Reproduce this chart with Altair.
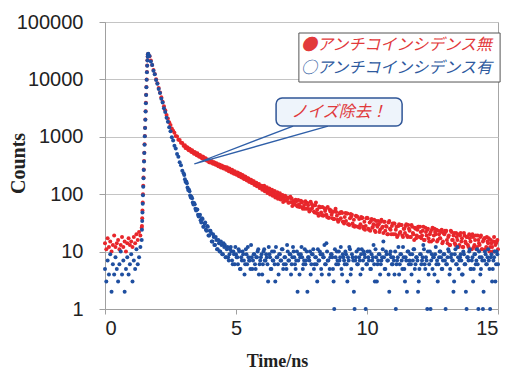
import altair as alt
import pandas as pd

RED = "#e8262b"
BLUE = "#1f4fa0"

SERIES = ["アンチコインシデンス無", "アンチコインシデンス有"]
LEGEND_TEXT = ["●アンチコインシデンス無", "○アンチコインシデンス有"]
CALLOUT = "ノイズ除去！"
X_TICKS = [0, 5, 10, 15]
Y_TICKS = [1, 10, 100, 1000, 10000, 100000]

# time grid (ns)
pre_t = [round(i * 0.05, 2) for i in range(29)]            # 0.00 .. 1.40
rise_t = [round(1.41 + i * 0.01, 2) for i in range(24)]    # 1.41 .. 1.64
decay_t = [round(1.65 + i * 0.05, 2) for i in range(268)]  # 1.65 .. 15.00
mid_t = [round(3.025 + i * 0.05, 3) for i in range(240)]   # 3.025 .. 14.975

# --- red: without anti-coincidence ---
red_pre = [14, 11, 17, 12, 15, 10, 13, 19, 12, 14, 16, 11, 13, 18, 12, 15, 10, 14, 17, 13,
           15, 12, 18, 14, 20, 16, 22, 19, 26]
red_rise = [28, 38, 52, 72, 100, 140, 195, 270, 380, 530, 740, 1030, 1440, 2000, 2800, 3900,
            5400, 7400, 10000, 13500, 17500, 21500, 25000, 27500]
red_decay = (
    [27800, 25200, 21300, 17900, 14600, 12400, 10100, 8600, 7100, 5900, 4900, 4100, 3400, 2900, 2400, 2080, 1790, 1600, 1390, 1270]
    + [1180, 1030, 1010, 890, 880, 790, 780, 700, 710, 640, 650, 585, 600, 545, 555, 505, 520, 475, 490, 450]
    + [460, 425, 445, 405, 420, 385, 400, 365, 378, 350, 362, 333, 345, 318, 330, 300, 315, 290, 300, 280]
    + [295, 262, 280, 248, 266, 235, 252, 222, 240, 210, 228, 198, 215, 186, 203, 176, 190, 165, 178, 156]
    + [168, 146, 158, 137, 147, 128, 140, 120, 131, 112, 123, 105, 115, 99, 109, 94, 103, 88, 96, 83]
    + [96, 81, 86, 73, 90, 77, 81, 71, 87, 73, 62, 76, 66, 75, 61, 67, 61, 72, 56, 65]
    + [75, 56, 64, 50, 74, 57, 63, 48, 72, 54, 42, 59, 48, 60, 43, 51, 44, 60, 39, 50]
    + [44, 49, 37, 56, 42, 33, 46, 38, 47, 33, 40, 34, 46, 30, 38, 41, 31, 36, 28, 41]
    + [27, 37, 30, 38, 27, 33, 28, 39, 25, 32, 34, 26, 30, 23, 34, 27, 30, 24, 36, 27]
    + [33, 23, 27, 20, 34, 24, 28, 20, 31, 24, 18, 28, 21, 29, 19, 25, 21, 30, 18, 25]
    + [18, 29, 21, 16, 25, 19, 27, 18, 22, 19, 27, 16, 22, 24, 17, 20, 15, 26, 19, 22]
    + [24, 16, 20, 17, 24, 15, 20, 22, 16, 18, 13, 23, 16, 19, 14, 21, 16, 12, 19, 15]
    + [12, 21, 15, 18, 13, 20, 15, 11, 18, 13, 19, 12, 16, 13, 19, 11, 16, 17, 12, 15]
    + [17, 12, 14, 10, 18, 13, 15, 11]
)
red_mid = (
    [700, 640, 655, 600, 620, 565, 585, 530, 545, 500, 515, 465, 480, 440, 452, 410, 425, 388, 398, 362]
    + [355, 375, 340, 356, 325, 340, 308, 326, 292, 310, 280, 294, 266, 282, 252, 266, 240, 254, 228, 240]
    + [218, 236, 206, 222, 196, 208, 184, 198, 174, 188, 164, 178, 156, 168, 146, 158, 139, 150, 131, 141]
    + [124, 140, 118, 132, 112, 126, 106, 120, 100, 114, 96, 108, 91, 104, 87, 97, 82, 94, 79, 88]
    + [72, 90, 84, 70, 67, 80, 63, 79, 60, 77, 74, 59, 56, 71, 70, 55, 52, 68, 64, 50]
    + [64, 47, 46, 61, 59, 43, 42, 57, 55, 40, 39, 54, 52, 38, 37, 51, 49, 36, 35, 48]
    + [49, 33, 31, 47, 46, 30, 29, 45, 44, 28, 27, 42, 41, 27, 26, 40, 39, 25, 24, 38]
    + [38, 24, 23, 37, 27, 36, 22, 29, 34, 22, 33, 26, 21, 33, 28, 20, 32, 25, 20, 31]
    + [31, 20, 27, 19, 30, 22, 29, 18, 25, 28, 19, 29, 23, 18, 27, 20, 26, 17, 24, 27]
    + [27, 17, 23, 16, 26, 19, 25, 15, 22, 24, 16, 25, 20, 15, 23, 17, 22, 14, 21, 23]
    + [23, 14, 19, 13, 22, 16, 21, 13, 18, 20, 13, 21, 17, 12, 19, 14, 18, 12, 17, 19]
    + [20, 12, 16, 11, 19, 14, 18, 11, 15, 17, 11, 18, 14, 10, 16, 12, 15, 10, 14, 16]
)

# --- blue: with anti-coincidence ---
blue_pre = [5, 3, 7, 4, 9, 2, 6, 4, 8, 5, 3, 6, 10, 4, 7, 2, 5, 8, 4, 6,
            9, 3, 7, 5, 11, 6, 8, 12, 16]
blue_rise = [24, 34, 48, 68, 96, 135, 190, 265, 370, 520, 730, 1020, 1420, 1980, 2750, 3850,
             5350, 7300, 9900, 13300, 17300, 21300, 24800, 27300]
blue_decay = (
    [28000, 25500, 20500, 17800, 14200, 12300, 9800, 8400, 6800, 5800, 4600, 3950, 3150, 2700, 2150, 1830, 1470, 1250, 980, 860]
    + [700, 625, 500, 450, 360, 318, 255, 232, 182, 166, 131, 121, 95, 90, 72, 70, 56, 54, 44, 42]
    + [35, 38, 27, 31, 24, 28, 19, 23, 21, 15, 18, 13, 16, 11, 14, 10, 13, 9, 12, 8]
    + [11, 8, 9, 12, 7, 10, 6, 9, 8, 11, 5, 8, 10, 7, 6, 9, 12, 7, 5, 8]
    + [7, 9, 5, 8, 11, 6, 8, 4, 10, 7, 9, 6, 12, 8, 5, 7, 10, 3, 8, 6]
    + [9, 7, 11, 5, 8, 6, 13, 7, 9, 4, 8, 10, 6, 7, 2, 9, 8, 12, 5, 7]
    + [6, 10, 8, 7, 4, 9, 11, 6, 8, 3, 7, 10, 5, 9, 8, 6, 14, 7, 4, 8]
    + [9, 5, 1, 8, 10, 6, 7, 12, 4, 8, 6, 9, 3, 7, 11, 5, 8, 2, 7, 10]
    + [6, 8, 4, 11, 7, 9, 1, 6, 8, 10, 5, 7, 13, 3, 8, 6, 9, 4, 7, 11]
    + [8, 5, 9, 7, 2, 10, 6, 8, 4, 1, 7, 12, 6, 9, 5, 8, 3, 7, 10, 6]
    + [9, 4, 7, 11, 6, 8, 2, 5, 9, 7, 13, 6, 8, 1, 4, 10, 7, 5, 8, 9]
    + [6, 3, 8, 10, 5, 7, 9, 1, 6, 11, 4, 8, 7, 2, 9, 6, 12, 5, 8, 7]
    + [4, 9, 6, 1, 8, 10, 5, 7, 3, 9, 6, 11, 1, 8, 5, 7, 2, 10, 6, 8]
    + [7, 1, 9, 5, 8, 3, 10, 6]
)
blue_mid = (
    [215, 165, 155, 118, 113, 88, 85, 66, 67, 52, 54, 41, 44, 32, 37, 27, 32, 23, 27, 19]
    + [23, 15, 20, 13, 18, 11, 16, 10, 15, 9, 14, 13, 8, 12, 7, 11, 10, 6, 9, 12]
    + [8, 6, 10, 5, 7, 9, 4, 11, 6, 8, 7, 13, 5, 9, 6, 8, 10, 4, 7, 9]
    + [6, 11, 7, 8, 3, 9, 5, 10, 7, 6, 12, 8, 4, 9, 7, 11, 6, 8, 5, 10]
    + [7, 9, 6, 12, 8, 5, 10, 7, 4, 9, 8, 6, 11, 7, 2, 8, 10, 6, 9, 5]
    + [8, 6, 11, 7, 9, 4, 8, 13, 6, 10, 7, 5, 9, 8, 3, 11, 6, 7, 10, 8]
    + [5, 9, 7, 10, 6, 8, 12, 4, 9, 7, 1, 8, 6, 11, 7, 9, 5, 10, 8, 6]
    + [10, 7, 5, 9, 8, 6, 11, 3, 7, 9, 6, 8, 15, 5, 10, 7, 4, 9, 8, 6]
    + [7, 10, 6, 8, 4, 9, 7, 12, 5, 8, 2, 10, 7, 6, 9, 11, 5, 8, 7, 3]
    + [9, 6, 8, 11, 5, 7, 10, 6, 1, 9, 8, 4, 12, 7, 6, 10, 8, 5, 9, 7]
    + [6, 8, 10, 5, 9, 7, 3, 11, 6, 8, 7, 9, 4, 10, 6, 2, 8, 7, 11, 5]
    + [8, 5, 9, 7, 6, 10, 4, 8, 1, 7, 9, 6, 11, 5, 8, 3, 7, 10, 6, 9]
)

all_t = pre_t + rise_t + decay_t + mid_t
df_red = pd.DataFrame({"t": all_t, "count": red_pre + red_rise + red_decay + red_mid})
df_blue = pd.DataFrame({"t": all_t, "count": blue_pre + blue_rise + blue_decay + blue_mid})

# annotation geometry (in data units)
legend_box = pd.DataFrame({"t": [7.40], "t2": [15.08], "count": [64300], "count2": [9000]})
legend_txt = pd.DataFrame({"t": [7.48, 7.48], "count": [39700, 15800],
                           "label": LEGEND_TEXT, "c": ["#e23a3c", "#2e5a9e"]})
callout_box = pd.DataFrame({"t": [6.53], "t2": [11.34], "count": [4740], "count2": [1540]})
callout_txt = pd.DataFrame({"t": [8.93], "count": [2700], "label": [CALLOUT]})
pointer = pd.DataFrame({"t": [7.18, 3.41, 8.51], "count": [1540, 336, 1540], "o": [0, 1, 2]})

x_scale = alt.Scale(domain=[0, 15], nice=False, zero=False)
y_scale = alt.Scale(type="log", domain=[1, 100000], nice=False)

x_axis = alt.Axis(values=X_TICKS, format="d", grid=False, title="Time/ns",
                  labelFont="Liberation Sans", labelFontSize=20, labelColor="#222",
                  labelPadding=4, tickSize=5, tickColor="#a0a0a0", domainColor="#a0a0a0",
                  titleFont="Liberation Serif", titleFontWeight="bold", titleFontSize=18,
                  titleColor="#222", titleX=172, titleY=52, titleBaseline="middle")
y_axis = alt.Axis(values=Y_TICKS, format="d", grid=True, gridColor="#c4c4c4", title="Counts",
                  labelFont="Liberation Sans", labelFontSize=20, labelColor="#222",
                  labelPadding=16, tickSize=6, tickColor="#a0a0a0", domainColor="#a0a0a0",
                  titleFont="Liberation Serif", titleFontWeight="bold", titleFontSize=20,
                  titleColor="#222", titleX=-87, titleY=141, titleAngle=-90,
                  titleAlign="center", titleBaseline="middle")

X = alt.X("t:Q", scale=x_scale, axis=x_axis)
Y = alt.Y("count:Q", scale=y_scale, axis=y_axis)

red_pts = alt.Chart(df_red).mark_circle(size=16, color=RED, opacity=1).encode(x=X, y=Y)
blue_pts = alt.Chart(df_blue).mark_circle(size=16, color=BLUE, opacity=1).encode(x=X, y=Y)

lbox = alt.Chart(legend_box).mark_rect(fill="white", stroke="#555555", strokeWidth=1).encode(
    x=X, x2="t2", y=Y, y2="count2")
ltxt = alt.Chart(legend_txt).mark_text(align="left", baseline="middle", fontSize=16,
                                       font="Noto Sans CJK JP", fontStyle="italic").encode(
    x=X, y=Y, text="label:N", color=alt.Color("c:N", scale=None))

ptr = alt.Chart(pointer).mark_line(color="#2f5fa8", strokeWidth=1.3).encode(
    x=X, y=Y, order="o:Q")
cbox = alt.Chart(callout_box).mark_rect(fill="#eef4fb", stroke="#2f5597", strokeWidth=1.5,
                                        cornerRadius=6).encode(x=X, x2="t2", y=Y, y2="count2")
ctxt = alt.Chart(callout_txt).mark_text(align="center", baseline="middle", fontSize=16,
                                        font="Noto Sans CJK JP", fontStyle="italic",
                                        color="#e0393b").encode(x=X, y=Y, text="label:N")

chart = alt.layer(red_pts, blue_pts, ptr, cbox, ctxt, lbox, ltxt).properties(
    width=393, height=287,
    autosize=alt.AutoSizeParams(type="none"),
    padding={"left": 97, "top": 14, "right": 6, "bottom": 62},
    background="white",
).configure_view(stroke="#a6a6a6", strokeWidth=1)

chart.save("out.html", embed_options={"renderer": "svg", "actions": False})
